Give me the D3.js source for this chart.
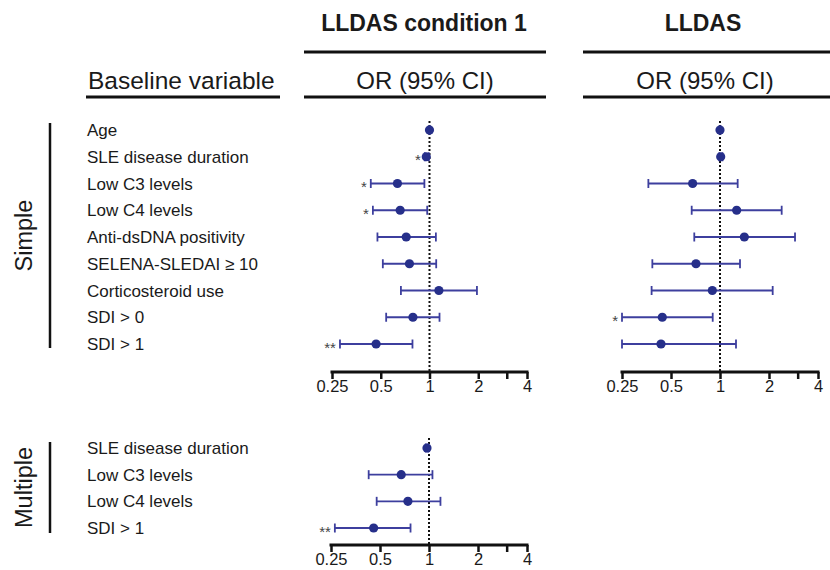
<!DOCTYPE html>
<html>
<head>
<meta charset="utf-8">
<script src="https://cdn.jsdelivr.net/npm/d3@7"></script>
<style>
  body { margin: 0; background: #fff; }
  svg text { font-family: "Liberation Sans", Arial, sans-serif; fill: #1a1a1a; }
</style>
</head>
<body>
<svg id="chart" width="830" height="570"></svg>
<script>
// ---- data ----
const simpleVariables = [
  "Age",
  "SLE disease duration",
  "Low C3 levels",
  "Low C4 levels",
  "Anti-dsDNA positivity",
  "SELENA-SLEDAI \u2265 10",
  "Corticosteroid use",
  "SDI > 0",
  "SDI > 1",
];
const multipleVariables = ["SLE disease duration", "Low C3 levels", "Low C4 levels", "SDI > 1"];

// LLDAS condition 1, simple model
const cond1SimpleOR = [1.0, 0.955, 0.634, 0.659, 0.718, 0.752, 1.143, 0.79, 0.468];
const cond1SimpleLow = [0.99, 0.935, 0.434, 0.447, 0.477, 0.515, 0.666, 0.54, 0.28];
const cond1SimpleHigh = [1.01, 0.99, 0.93, 0.968, 1.095, 1.1, 1.963, 1.153, 0.785];
const cond1SimpleSig = ["", "*", "*", "*", "", "", "", "", "**"];

// LLDAS, simple model
const lldasSimpleOR = [1.0, 1.01, 0.679, 1.266, 1.411, 0.712, 0.897, 0.442, 0.434];
const lldasSimpleLow = [0.99, 0.99, 0.363, 0.67, 0.695, 0.384, 0.38, 0.25, 0.25];
const lldasSimpleHigh = [1.01, 1.035, 1.284, 2.393, 2.89, 1.327, 2.107, 0.902, 1.254];
const lldasSimpleSig = ["", "", "", "", "", "", "", "*", ""];

// LLDAS condition 1, multiple model
const cond1MultOR = [0.972, 0.675, 0.742, 0.457];
const cond1MultLow = [0.955, 0.426, 0.477, 0.264];
const cond1MultHigh = [0.99, 1.05, 1.176, 0.77];
const cond1MultSig = ["", "", "", "**"];

const xTicks = [0.25, 0.5, 1, 2, 3, 4];
const xTickLabels = ["0.25", "0.5", "1", "2", "", "4"];

// ---- drawing ----
const svg = d3.select("#chart");
const barColor = "#3d3f9e";
const dotColor = "#262f8a";

function headerRule(x1, x2, y) {
  svg.append("line")
    .attr("x1", x1).attr("x2", x2).attr("y1", y).attr("y2", y)
    .attr("stroke", "#111").attr("stroke-width", 3);
}

// column headers
svg.append("text").attr("x", 424).attr("y", 31).attr("text-anchor", "middle")
  .style("font-size", "23px").style("font-weight", "bold").text("LLDAS condition 1");
headerRule(304, 546, 52);
svg.append("text").attr("x", 425).attr("y", 89).attr("text-anchor", "middle")
  .style("font-size", "24px").text("OR (95% CI)");
headerRule(304, 546, 97);

svg.append("text").attr("x", 703).attr("y", 31).attr("text-anchor", "middle")
  .style("font-size", "23px").style("font-weight", "bold").text("LLDAS");
headerRule(583, 830, 52);
svg.append("text").attr("x", 705).attr("y", 89).attr("text-anchor", "middle")
  .style("font-size", "24px").text("OR (95% CI)");
headerRule(583, 830, 97);

svg.append("text").attr("x", 88).attr("y", 89)
  .style("font-size", "24.5px").text("Baseline variable");
headerRule(86, 280, 97);

// group labels with vertical rules
function groupLabel(text, yTop, yBottom) {
  svg.append("line")
    .attr("x1", 50).attr("x2", 50).attr("y1", yTop).attr("y2", yBottom)
    .attr("stroke", "#111").attr("stroke-width", 2.5);
  const cy = (yTop + yBottom) / 2;
  svg.append("text")
    .attr("transform", `translate(32,${cy}) rotate(-90)`)
    .attr("text-anchor", "middle")
    .style("font-size", "23.5px")
    .text(text);
}
groupLabel("Simple", 123, 348);
groupLabel("Multiple", 442, 533);

function rowLabels(vars, y) {
  svg.append("g").selectAll("text")
    .data(vars)
    .join("text")
    .attr("x", 87)
    .attr("y", (d) => y(d))
    .attr("dy", "0.36em")
    .style("font-size", "17px")
    .text((d) => d);
}

function forest(vars, or, low, high, sig, x, y, axisY, lineTop) {
  const g = svg.append("g");
  const rows = vars.map((v, i) => ({ v, or: or[i], lo: low[i], hi: high[i], sig: sig[i] }));

  // axis
  const axis = d3.axisBottom(x)
    .tickValues(xTicks)
    .tickFormat((d, i) => xTickLabels[i])
    .tickSize(7)
    .tickSizeOuter(0)
    .tickPadding(1);
  const ax = g.append("g").attr("transform", `translate(0,${axisY})`).call(axis);
  ax.select(".domain").attr("stroke", "#111").attr("stroke-width", 3)
    .attr("d", `M${x.range()[0] - 1.5},0H${x.range()[1] + 1.5}`);
  ax.selectAll(".tick line").attr("stroke", "#111").attr("stroke-width", 2.5);
  ax.selectAll(".tick text").style("font-size", "16.5px").attr("fill", "#111");

  // reference line at OR = 1
  g.append("line")
    .attr("x1", x(1)).attr("x2", x(1))
    .attr("y1", lineTop).attr("y2", axisY)
    .attr("stroke", "#111").attr("stroke-width", 2)
    .attr("stroke-dasharray", "2,2");

  const row = g.selectAll(".row").data(rows).join("g").attr("class", "row");
  row.append("line")
    .attr("x1", (d) => x(d.lo)).attr("x2", (d) => x(d.hi))
    .attr("y1", (d) => y(d.v)).attr("y2", (d) => y(d.v))
    .attr("stroke", barColor).attr("stroke-width", 1.8);
  ["lo", "hi"].forEach((k) => {
    row.append("line")
      .attr("x1", (d) => x(d[k])).attr("x2", (d) => x(d[k]))
      .attr("y1", (d) => y(d.v) - 4.5).attr("y2", (d) => y(d.v) + 4.5)
      .attr("stroke", barColor).attr("stroke-width", 1.8);
  });
  row.append("circle")
    .attr("cx", (d) => x(d.or)).attr("cy", (d) => y(d.v))
    .attr("r", 4.6)
    .attr("fill", dotColor);
  row.append("text")
    .attr("x", (d) => x(d.lo) - 4)
    .attr("y", (d) => y(d.v) + 8.5)
    .attr("text-anchor", "end")
    .style("font-size", "15px")
    .style("fill", "#444")
    .text((d) => d.sig);
}

const ySimple = d3.scalePoint().domain(simpleVariables).range([130, 344]);
const yMult = d3.scalePoint().domain(multipleVariables).range([448, 528]);

rowLabels(simpleVariables, ySimple);
rowLabels(multipleVariables, yMult);

const xCond1 = d3.scaleLog().base(2).domain([0.25, 4]).range([332, 527]);
const xLldas = d3.scaleLog().base(2).domain([0.25, 4]).range([622, 818]);
const xCond1Mult = d3.scaleLog().base(2).domain([0.25, 4]).range([331, 527]);

forest(simpleVariables, cond1SimpleOR, cond1SimpleLow, cond1SimpleHigh, cond1SimpleSig, xCond1, ySimple, 372, 121);
forest(simpleVariables, lldasSimpleOR, lldasSimpleLow, lldasSimpleHigh, lldasSimpleSig, xLldas, ySimple, 372, 121);
forest(multipleVariables, cond1MultOR, cond1MultLow, cond1MultHigh, cond1MultSig, xCond1Mult, yMult, 545, 438);
</script>
</body>
</html>
